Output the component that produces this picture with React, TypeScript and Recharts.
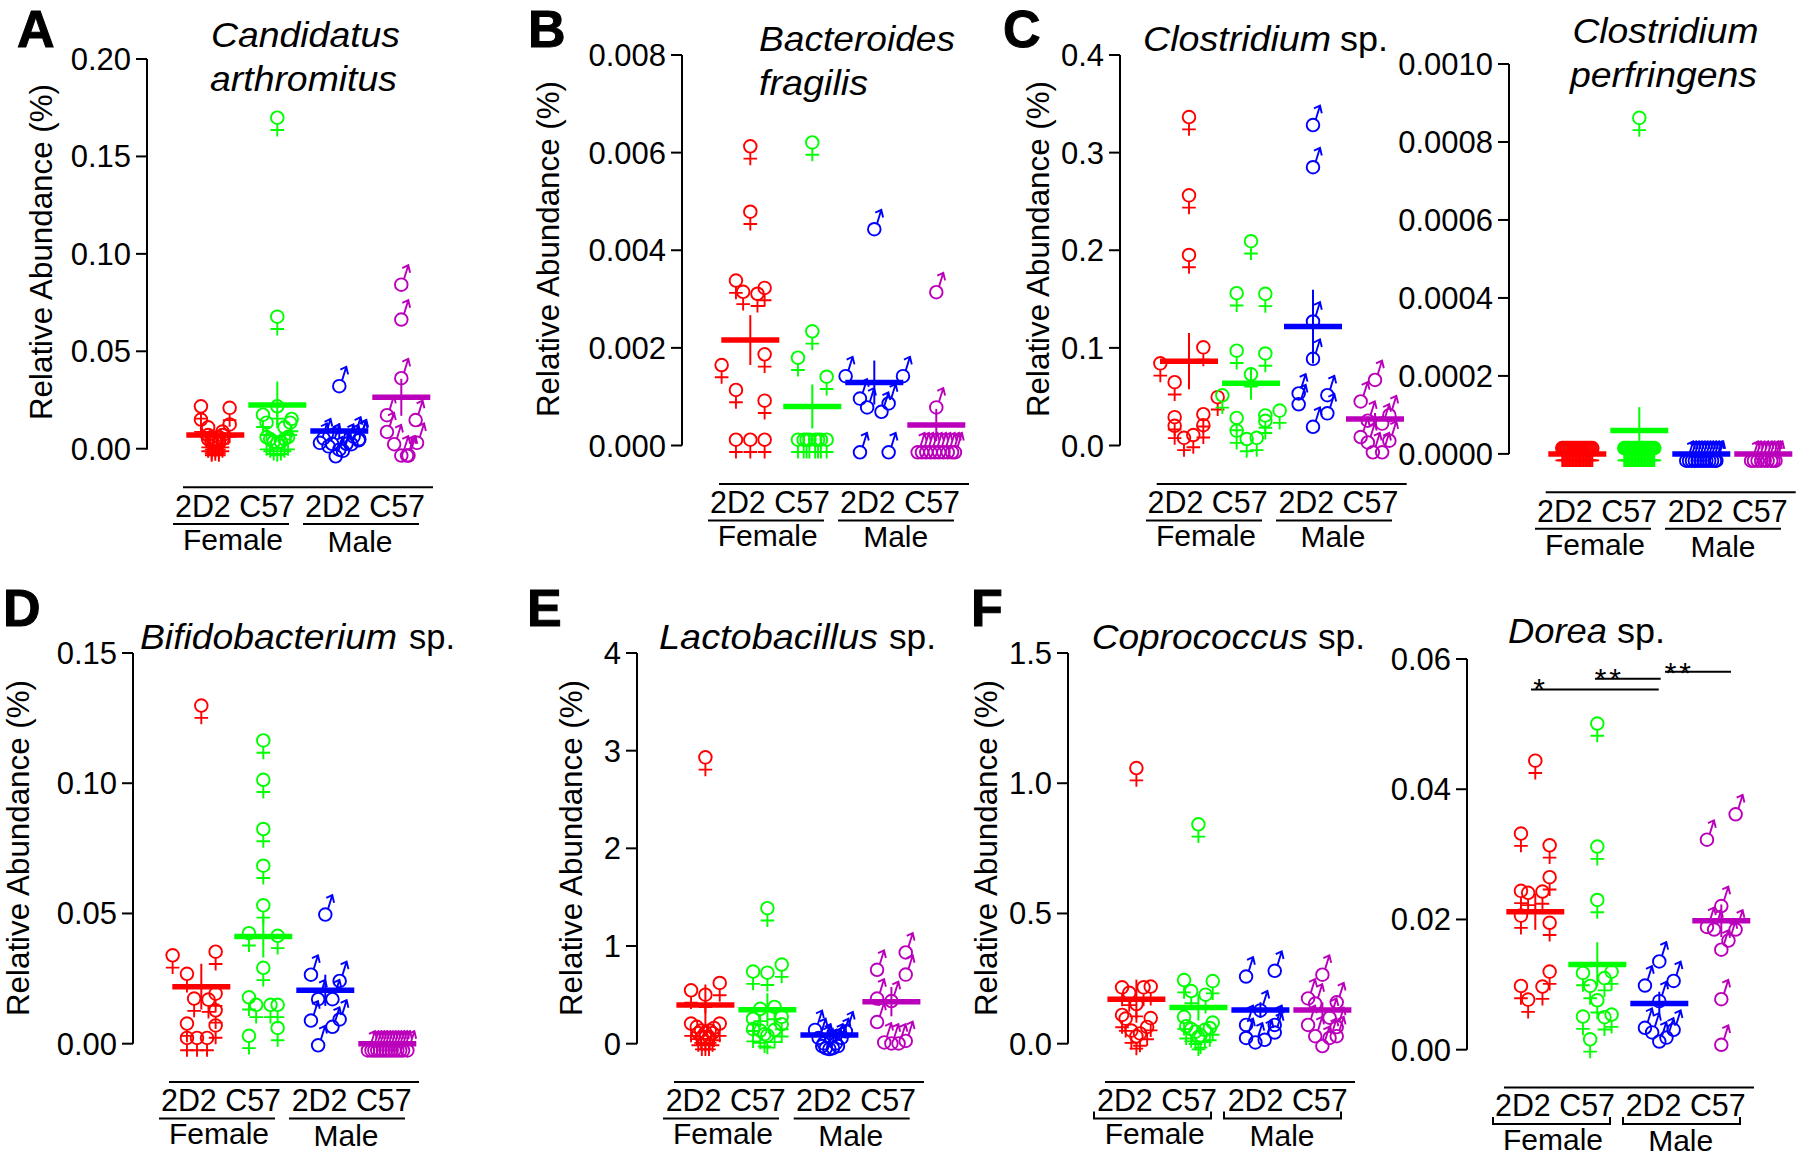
import React from 'react';
import { ScatterChart, Scatter, XAxis, YAxis, ErrorBar } from 'recharts';

// each point is [swarm column, relative abundance]
type Pt = [number, number];

const FONT = '"Liberation Sans", Arial, sans-serif';
const COLORS = ['#ff0000', '#00ff00', '#0000ff', '#bb00bb'];
const GROUP_GAP = 62;
const COLUMNS_PER_GROUP = 8.65;

const arthromitusRed: Pt[] = [[-2, 0.0188], [2, 0.018], [-2, 0.012], [2, 0.0095], [-1, 0.008], [1, 0.0058], [-1, 0.004], [1, 0.004], [-0.5, 0.003], [0.5, 0.003], [0, 0.002], [-1, 0.002], [1, 0.002], [-0.5, 0.001], [0.5, 0.001], [0, 0.0005], [-0.5, 0], [0.5, 0]];
const arthromitusGreen: Pt[] = [[0, 0.1669], [0, 0.0648], [0, 0.0188], [-2, 0.0145], [2, 0.0123], [-1.5, 0.0104], [1.8, 0.0104], [1, 0.008], [-1.5, 0.003], [1.5, 0.003], [-1, 0.002], [1, 0.002], [-0.5, 0.0006], [0.5, 0.0006], [0, 0]];
const arthromitusBlue: Pt[] = [[0, 0.0356], [2, 0.0097], [-2.2, 0.0088], [2.8, 0.0084], [2.7, 0.0078], [-2.7, 0.0065], [-1, 0.006], [1, 0.006], [1.7, 0.0058], [-1.5, 0.0047], [0, 0.003], [0.5, 0.0024], [-0.5, -0.0004]];
const arthromitusMagenta: Pt[] = [[0, 0.0877], [0, 0.0698], [0, 0.0397], [-2, 0.0207], [2, 0.0182], [-2, 0.0121], [2.2, 0.0065], [-1, 0.0058], [0, 0], [1, 0], [0.8, 0]];
const arthromitusMeans = [0.0071, 0.0225, 0.0091, 0.0264];
const arthromitusSems = [0.002, 0.012, 0.004, 0.0095];

const fragilisRed: Pt[] = [[0, 0.00601], [0, 0.00467], [-2, 0.00326], [2, 0.00311], [-1, 0.00303], [1, 0.00299], [2, 0.00175], [-4, 0.00153], [-2, 0.00102], [2, 0.0008], [-2, 0], [0, 0], [2, 0]];
const fragilisGreen: Pt[] = [[0, 0.00609], [0, 0.00222], [-2, 0.00168], [2, 0.00129], [-2, 0], [-1.2, 0], [-0.8, 0], [-0.4, 0], [0.4, 0], [0.8, 0], [1.2, 0], [2, 0]];
const fragilisBlue: Pt[] = [[0, 0.00457], [-4, 0.00156], [4, 0.00156], [-2, 0.0011], [-1, 0.00092], [2, 0.001], [1, 0.00083], [-2, 0], [2, 0]];
const fragilisMagenta: Pt[] = [[0, 0.00328], [0, 0.00092], [-2.6, 0], [-2, 0], [-1.4, 0], [-0.8, 0], [-0.2, 0], [0.4, 0], [1, 0], [1.6, 0], [2.2, 0], [2.6, 0]];
const fragilisMeans = [0.00216, 0.0008, 0.00129, 0.00042];
const fragilisSems = [0.00051, 0.00045, 0.00045, 0.00033];

const clostridiumRed: Pt[] = [[0, 0.3305], [0, 0.2503], [0, 0.1892], [2, 0.0946], [-4, 0.0782], [-2, 0.0589], [4, 0.0436], [2, 0.0261], [-2, 0.0231], [2, 0.0149], [-2, 0.0142], [0.6, 0.0048], [-0.7, 0.0019]];
const clostridiumGreen: Pt[] = [[0, 0.2033], [-2, 0.1501], [2, 0.1494], [-2, 0.0912], [2, 0.0883], [0, 0.067], [-4, 0.0455], [4, 0.0298], [2, 0.0249], [-2, 0.0223], [2, 0.0194], [-2, 0.0093], [0.8, 0.0019], [-0.6, 0.0007]];
const clostridiumBlue: Pt[] = [[0, 0.3352], [0, 0.292], [0, 0.134], [0, 0.0957], [-2, 0.0603], [2, 0.0585], [-2, 0.0492], [2, 0.0399], [0, 0.0261]];
const clostridiumMagenta: Pt[] = [[0, 0.0741], [-2, 0.0521], [2, 0.038], [-1, 0.0324], [1, 0.0294], [-2, 0.0156], [2, 0.0119], [-1, 0.0101], [-0.3, 0], [1, 0]];
const clostridiumMeans = [0.0864, 0.0637, 0.1218, 0.0272];
const clostridiumSems = [0.0288, 0.0168, 0.0378, 0.006];

const perfringensRed: Pt[] = [[-2.1, 0], [-1.9, 0], [-1.7, 0], [-1.5, 0], [-1.3, 0], [-1.1, 0], [-0.9, 0], [-0.7, 0], [-0.5, 0], [-0.3, 0], [-0.1, 0], [0.1, 0], [0.3, 0], [0.5, 0], [0.7, 0], [0.9, 0], [1.1, 0], [1.3, 0], [1.5, 0], [1.7, 0], [1.9, 0], [2.1, 0]];
const perfringensGreen: Pt[] = [[0, 0.000847], [-2.1, 0], [-1.9, 0], [-1.7, 0], [-1.5, 0], [-1.3, 0], [-1.1, 0], [-0.9, 0], [-0.7, 0], [-0.5, 0], [-0.3, 0], [-0.1, 0], [0.1, 0], [0.3, 0], [0.5, 0], [0.7, 0], [0.9, 0], [1.1, 0], [1.3, 0], [1.5, 0], [1.7, 0], [1.9, 0], [2.1, 0]];
const perfringensBlue: Pt[] = [[-2.1, 0], [-1.7, 0], [-1.3, 0], [-0.9, 0], [-0.5, 0], [-0.1, 0], [0.3, 0], [0.7, 0], [1.1, 0], [1.5, 0], [1.9, 0], [2.1, 0]];
const perfringensMagenta: Pt[] = [[-1.7, 0], [-1.3, 0], [-0.8, 0], [-0.3, 0], [0.2, 0], [0.6, 0], [1.1, 0], [1.4, 0], [1.7, 0]];
const perfringensMeans = [0, 0.00006, 0, 0];
const perfringensSems = [0, 0.00006, 0, 0];

const bifidoRed: Pt[] = [[0, 0.1276], [-4, 0.0317], [2, 0.0331], [-2, 0.0246], [2, 0.017], [-1, 0.0151], [1, 0.0147], [2, 0.0106], [-2, 0.0055], [2, 0.0048], [-2, 0], [-0.6, 0], [0.8, 0]];
const bifidoGreen: Pt[] = [[0, 0.1142], [0, 0.0991], [0, 0.0802], [0, 0.0661], [0, 0.0509], [-2, 0.0402], [2, 0.0392], [0, 0.0269], [-2, 0.0156], [-1, 0.0127], [1, 0.0127], [2, 0.0127], [2, 0.0038], [-2, 0.0008]];
const bifidoBlue: Pt[] = [[0, 0.0522], [-2, 0.0291], [2, 0.0267], [-1, 0.0197], [1, 0.0197], [2, 0.0119], [-2, 0.0115], [1, 0.0091], [-1, 0.002]];
const bifidoMagenta: Pt[] = [[-2.7, 0], [-2.2, 0], [-1.8, 0], [-1.4, 0], [-1, 0], [-0.6, 0], [-0.2, 0], [0.2, 0], [0.6, 0], [1, 0], [1.4, 0], [1.8, 0], [2.2, 0], [2.8, 0]];
const bifidoMeans = [0.0219, 0.0412, 0.0205, 0];
const bifidoSems = [0.0088, 0.0081, 0.006, 0];

const lactoRed: Pt[] = [[0, 2.872], [2, 0.562], [-2, 0.487], [0, 0.442], [-2, 0.147], [2, 0.147], [-1.2, 0.113], [1.2, 0.102], [-0.6, 0.075], [0.6, 0.075], [0, 0.053], [-1, 0.05], [1, 0.05], [-0.5, 0.008], [0.5, 0.008], [0, 0.008]];
const lactoGreen: Pt[] = [[0, 1.328], [2, 0.751], [-2, 0.679], [0, 0.668], [1, 0.317], [-1, 0.298], [2, 0.215], [-2, 0.196], [2, 0.14], [-2, 0.09], [1, 0.083], [-1, 0.075], [-0.4, 0.038], [0, 0.026]];
const lactoBlue: Pt[] = [[-2, 0.211], [2.3, 0.196], [-1.5, 0.128], [1.7, 0.128], [-0.8, 0.072], [0.9, 0.072], [-1, 0.045], [1.2, 0.045], [-0.5, 0.023], [0.5, 0.023], [0, 0.015]];
const lactoMagenta: Pt[] = [[2, 1.004], [-2, 0.826], [2, 0.777], [-2, 0.532], [0, 0.506], [-2, 0.291], [2, 0.098], [-1, 0.083], [0, 0.072], [1, 0.072]];
const lactoMeans = [0.396, 0.347, 0.09, 0.43];
const lactoSems = [0.21, 0.17, 0.03, 0.15];

const coproRed: Pt[] = [[0, 1.036], [2, 0.197], [-2, 0.194], [1, 0.194], [-1, 0.173], [0, 0.13], [-2, 0.088], [2, 0.076], [-1.5, 0.074], [1.5, 0.042], [-0.7, 0.028], [0.5, 0.017], [0, 0.006]];
const coproGreen: Pt[] = [[0, 0.82], [-2, 0.222], [2, 0.218], [-1, 0.18], [1, 0.166], [-2, 0.081], [2, 0.059], [-1.7, 0.045], [1.6, 0.038], [-1, 0.034], [0.9, 0.031], [-0.4, 0.024], [0.3, 0.01], [0, 0.003]];
const coproBlue: Pt[] = [[2, 0.306], [-2, 0.284], [0, 0.154], [-2, 0.098], [2, 0.098], [2, 0.069], [-2, 0.048], [0.6, 0.041], [-0.7, 0.031]];
const coproMagenta: Pt[] = [[0, 0.291], [-2, 0.2], [2, 0.185], [-1, 0.18], [1, 0.126], [-2, 0.098], [2, 0.09], [-1, 0.055], [2, 0.055], [1, 0.048], [0, 0.017]];
const coproMeans = [0.171, 0.139, 0.129, 0.129];
const coproSems = [0.075, 0.05, 0.03, 0.03];

const doreaRed: Pt[] = [[0, 0.0435], [-2, 0.0323], [2, 0.0305], [2, 0.0256], [-2, 0.0235], [1, 0.0234], [-1, 0.0232], [-2, 0.0197], [2, 0.0186], [2, 0.0111], [-2, 0.0089], [1, 0.0088], [-1, 0.0068]];
const doreaGreen: Pt[] = [[0, 0.0492], [0, 0.0303], [0, 0.0221], [2, 0.0111], [-2, 0.0109], [1, 0.0101], [-1, 0.0089], [0, 0.0067], [2, 0.0045], [-2, 0.0042], [1, 0.0041], [-1, 0.0007]];
const doreaBlue: Pt[] = [[0, 0.0146], [2, 0.0116], [-2, 0.0109], [0, 0.0085], [-2, 0.0044], [2, 0.0041], [-1, 0.0037], [1, 0.0029], [0, 0.0023]];
const doreaMagenta: Pt[] = [[2, 0.0372], [-2, 0.0333], [0, 0.0231], [-2, 0.0199], [-1, 0.0195], [2, 0.0195], [1, 0.0178], [0, 0.0164], [0, 0.0088], [0, 0.0018]];
const doreaMeans = [0.0212, 0.0131, 0.0071, 0.0198];
const doreaSems = [0.0028, 0.0034, 0.0018, 0.0025];

const panels = [
  { id: 'A', axisX: 146.7, top: 59.3, bottom: 449.8, first: 215, max: 0.2, ticks: [0, 0.05, 0.1, 0.15, 0.2], digits: 2, groups: [arthromitusRed, arthromitusGreen, arthromitusBlue, arthromitusMagenta], means: arthromitusMeans, sems: arthromitusSems },
  { id: 'B', axisX: 681.7, top: 55.3, bottom: 445.8, first: 750, max: 0.008, ticks: [0, 0.002, 0.004, 0.006, 0.008], digits: 3, groups: [fragilisRed, fragilisGreen, fragilisBlue, fragilisMagenta], means: fragilisMeans, sems: fragilisSems },
  { id: 'C', axisX: 1120, top: 55.3, bottom: 445.8, first: 1189, max: 0.4, ticks: [0, 0.1, 0.2, 0.3, 0.4], digits: 1, groups: [clostridiumRed, clostridiumGreen, clostridiumBlue, clostridiumMagenta], means: clostridiumMeans, sems: clostridiumSems },
  { id: 'C2', axisX: 1509, top: 64.4, bottom: 454.3, first: 1577.3, max: 0.001, ticks: [0, 0.0002, 0.0004, 0.0006, 0.0008, 0.001], digits: 4, groups: [perfringensRed, perfringensGreen, perfringensBlue, perfringensMagenta], means: perfringensMeans, sems: perfringensSems },
  { id: 'D', axisX: 132.7, top: 653, bottom: 1043.7, first: 201, max: 0.15, ticks: [0, 0.05, 0.1, 0.15], digits: 2, groups: [bifidoRed, bifidoGreen, bifidoBlue, bifidoMagenta], means: bifidoMeans, sems: bifidoSems },
  { id: 'E', axisX: 637.3, top: 653, bottom: 1043.7, first: 705.7, max: 4, ticks: [0, 1, 2, 3, 4], digits: 0, groups: [lactoRed, lactoGreen, lactoBlue, lactoMagenta], means: lactoMeans, sems: lactoSems },
  { id: 'F', axisX: 1068.3, top: 653, bottom: 1043.7, first: 1136.7, max: 1.5, ticks: [0, 0.5, 1, 1.5], digits: 1, groups: [coproRed, coproGreen, coproBlue, coproMagenta], means: coproMeans, sems: coproSems },
  { id: 'F2', axisX: 1467, top: 658.9, bottom: 1049.6, first: 1535.3, max: 0.06, ticks: [0, 0.02, 0.04, 0.06], digits: 2, groups: [doreaRed, doreaGreen, doreaBlue, doreaMagenta], means: doreaMeans, sems: doreaSems },
];

const Venus = ({ cx, cy, color }: any) => (
  <g fill="none" stroke={color} strokeWidth={1.9}>
    <circle cx={cx} cy={cy - 5.8} r={6.3} />
    <path d={`M${cx} ${cy + 0.5}V${cy + 13}M${cx - 6.8} ${cy + 6.5}H${cx + 6.8}`} />
  </g>
);

const Mars = ({ cx, cy, color }: any) => (
  <g fill="none" stroke={color} strokeWidth={1.9}>
    <circle cx={cx} cy={cy + 6.8} r={6.3} />
    <path d={`M${cx + 2.8} ${cy + 1}L${cx + 7} ${cy - 12.6}M${cx + 1} ${cy - 9.8}L${cx + 7} ${cy - 12.6}L${cx + 8.8} ${cy - 5}`} />
  </g>
);

const Panel = ({ p }: any) => {
  const yWidth = 130;
  const left = p.axisX - yWidth;
  const mTop = 30;
  const mBottom = 45;
  const plotRight = p.first + 3 * GROUP_GAP + 33;
  const xMin = (p.axisX - p.first) / GROUP_GAP;
  const xMax = (plotRight - p.first) / GROUP_GAP;
  return (
    <div style={{ position: 'absolute', left, top: p.top - mTop }}>
      <ScatterChart
        width={plotRight - left}
        height={p.bottom - p.top + mTop + mBottom}
        margin={{ top: mTop, right: 0, bottom: mBottom, left: 0 }}
      >
        <XAxis type="number" dataKey="x" domain={[xMin, xMax]} hide />
        <YAxis
          type="number"
          dataKey="y"
          width={yWidth}
          domain={[0, p.max]}
          ticks={p.ticks}
          interval={0}
          tickFormatter={(v: number) => v.toFixed(p.digits)}
          tick={{ fontSize: 31, fill: '#000', fontFamily: FONT }}
          tickSize={11}
          tickMargin={5}
          tickLine={{ stroke: '#000', strokeWidth: 2 }}
          axisLine={{ stroke: '#000', strokeWidth: 2 }}
        />
        {p.groups.map((pts: Pt[], g: number) => (
          <Scatter
            key={`pts${g}`}
            data={pts.map(([k, v]) => ({ x: g + k / COLUMNS_PER_GROUP, y: v }))}
            isAnimationActive={false}
            shape={(s: any) =>
              g < 2 ? <Venus cx={s.cx} cy={s.cy} color={COLORS[g]} /> : <Mars cx={s.cx} cy={s.cy} color={COLORS[g]} />
            }
          />
        ))}
        {p.means.map((m: number, g: number) => (
          <Scatter
            key={`mean${g}`}
            data={[{ x: g, y: m, sem: p.sems[g] }]}
            isAnimationActive={false}
            shape={(s: any) => (
              <line x1={s.cx - 29} x2={s.cx + 29} y1={s.cy} y2={s.cy} stroke={COLORS[g]} strokeWidth={5.5} />
            )}
          >
            <ErrorBar dataKey="sem" direction="y" width={0} stroke={COLORS[g]} strokeWidth={2} isAnimationActive={false} />
          </Scatter>
        ))}
      </ScatterChart>
    </div>
  );
};

const Txt = ({ x, y, w, size = 31, italic, bold, anchor, children }: any) => (
  <text
    x={x}
    y={y}
    fontSize={size}
    fontFamily={FONT}
    fontStyle={italic ? 'italic' : undefined}
    fontWeight={bold ? 'bold' : undefined}
    textAnchor={anchor}
    fill="#000"
    stroke={bold ? '#000' : undefined}
    strokeWidth={bold ? 1 : undefined}
    {...(w ? { textLength: w, lengthAdjust: 'spacingAndGlyphs' } : {})}
  >
    {children}
  </text>
);

const YTitle = ({ x, y }: any) => (
  <text
    transform={`translate(${x} ${y}) rotate(-90)`}
    fontSize={31.5}
    fontFamily={FONT}
    textAnchor="middle"
    textLength={336}
    lengthAdjust="spacingAndGlyphs"
    fill="#000"
  >
    Relative Abundance (%)
  </text>
);

// group labels under one panel, bracket draws the small upturned ends used in F
const GroupLabels = ({ lineY, lineX, l1, l2, labelY, u1, u2, underY, fX, mX, fY, mY, bracket }: any) => (
  <g>
    <path d={`M${lineX} ${lineY}H${lineX + 250}`} stroke="#000" strokeWidth={2} />
    <Txt x={l1} y={labelY} w={120}>2D2 C57</Txt>
    <Txt x={l2} y={labelY} w={120}>2D2 C57</Txt>
    {[u1, u2].map((u: number) => (
      <path
        key={u}
        d={bracket ? `M${u} ${underY - 7}V${underY}H${u + 117}V${underY - 7}` : `M${u} ${underY}H${u + 116}`}
        stroke="#000"
        strokeWidth={2}
        fill="none"
      />
    ))}
    <Txt x={fX} y={fY} anchor="middle" size={30}>Female</Txt>
    <Txt x={mX} y={mY} anchor="middle" size={30}>Male</Txt>
  </g>
);

const Overlay = () => (
  <svg width={1800} height={1158} style={{ position: 'absolute', left: 0, top: 0 }}>
    <Txt x={17} y={47} size={52} bold>A</Txt>
    <Txt x={528} y={47} size={52} bold>B</Txt>
    <Txt x={1003} y={47} size={52} bold>C</Txt>
    <Txt x={3} y={626} size={52} bold>D</Txt>
    <Txt x={527} y={626} size={52} bold>E</Txt>
    <Txt x={971} y={626} size={52} bold>F</Txt>

    <Txt x={211} y={47.3} w={189} size={35} italic>Candidatus</Txt>
    <Txt x={210} y={91} w={187} size={35} italic>arthromitus</Txt>
    <Txt x={759} y={51} w={196} size={35} italic>Bacteroides</Txt>
    <Txt x={759} y={95.3} w={109} size={35} italic>fragilis</Txt>
    <Txt x={1143} y={51} w={188} size={35} italic>Clostridium</Txt>
    <Txt x={1340} y={51} w={48} size={35}>sp.</Txt>
    <Txt x={1572.5} y={43} w={186} size={35} italic>Clostridium</Txt>
    <Txt x={1570} y={87} w={187} size={35} italic>perfringens</Txt>
    <Txt x={140} y={649} w={257} size={35} italic>Bifidobacterium</Txt>
    <Txt x={409} y={649} w={46} size={35}>sp.</Txt>
    <Txt x={659} y={649} w={219} size={35} italic>Lactobacillus</Txt>
    <Txt x={889} y={649} w={47} size={35}>sp.</Txt>
    <Txt x={1091.7} y={649} w={216} size={35} italic>Coprococcus</Txt>
    <Txt x={1318} y={649} w={47} size={35}>sp.</Txt>
    <Txt x={1508} y={643.4} w={99} size={35} italic>Dorea</Txt>
    <Txt x={1617} y={643.4} w={48} size={35}>sp.</Txt>

    <YTitle x={52} y={252} />
    <YTitle x={559} y={249} />
    <YTitle x={1049} y={249} />
    <YTitle x={29} y={848} />
    <YTitle x={581.7} y={848} />
    <YTitle x={996.7} y={848} />

    <GroupLabels lineY={487.3} lineX={183} l1={175} l2={305} labelY={517} u1={173} u2={303} underY={524} fX={233} mX={360} fY={550} mY={552} />
    <GroupLabels lineY={484} lineX={719} l1={710} l2={840} labelY={512.7} u1={708} u2={838} underY={520.4} fX={767.7} mX={895.7} fY={545.5} mY={547.3} />
    <GroupLabels lineY={484} lineX={1156.7} l1={1147.6} l2={1278.4} labelY={512.7} u1={1146} u2={1276} underY={520.4} fX={1206} mX={1333} fY={545.5} mY={547} />
    <GroupLabels lineY={492.3} lineX={1545.7} l1={1537} l2={1667.7} labelY={522.3} u1={1535} u2={1665} underY={528.7} fX={1595} mX={1723} fY={555} mY={556.5} />
    <GroupLabels lineY={1082} lineX={169} l1={161} l2={291.7} labelY={1110.8} u1={159} u2={289} underY={1118.5} fX={219} mX={346} fY={1144} mY={1145.8} />
    <GroupLabels lineY={1082} lineX={674} l1={665.7} l2={796} labelY={1110.8} u1={663} u2={793.7} underY={1118.5} fX={723} mX={850.7} fY={1144} mY={1145.8} />
    <GroupLabels lineY={1082} lineX={1105} l1={1097} l2={1227.7} labelY={1110.8} u1={1094} u2={1224} underY={1118.5} fX={1154.7} mX={1282} fY={1144} mY={1145.8} bracket />
    <GroupLabels lineY={1087.6} lineX={1504} l1={1495} l2={1625.7} labelY={1116.3} u1={1493} u2={1623} underY={1124} fX={1553} mX={1680.7} fY={1149.5} mY={1151} bracket />

    <path d="M1531 689.5H1658.7M1595 678.8H1660.7M1665 671.8H1731" stroke="#000" strokeWidth={2} />
    <Txt x={1539} y={699} anchor="middle" size={30}>*</Txt>
    <Txt x={1600.7} y={689} anchor="middle" size={30}>*</Txt>
    <Txt x={1615} y={689} anchor="middle" size={30}>*</Txt>
    <Txt x={1670.7} y={683} anchor="middle" size={30}>*</Txt>
    <Txt x={1685} y={683} anchor="middle" size={30}>*</Txt>
  </svg>
);

export default function App() {
  return (
    <div style={{ position: 'absolute', left: 0, top: 0, width: 1800, height: 1158, background: '#fff', overflow: 'hidden' }}>
      {panels.map((p) => (
        <Panel key={p.id} p={p} />
      ))}
      <Overlay />
    </div>
  );
}
